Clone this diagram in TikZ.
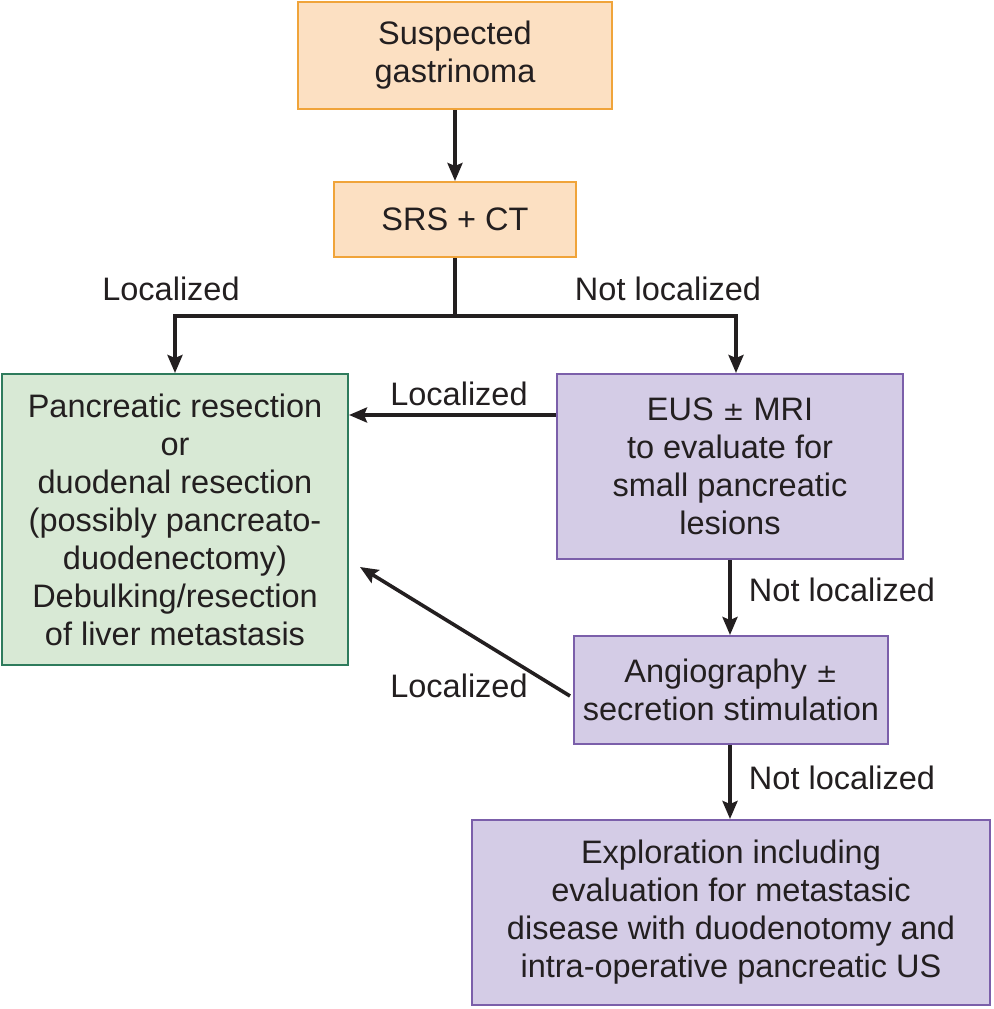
\documentclass[tikz,border=0pt]{standalone}
\usepackage{fontspec}
\setmainfont{Liberation Sans}
\usetikzlibrary{arrows.meta}
\definecolor{orfill}{HTML}{FCE0C2}
\definecolor{ordraw}{HTML}{F0A43A}
\definecolor{grfill}{HTML}{D8E9D5}
\definecolor{grdraw}{HTML}{2E7B5C}
\definecolor{vifill}{HTML}{D4CCE6}
\definecolor{vidraw}{HTML}{7B5FAA}
\definecolor{ink}{HTML}{231F20}
\begin{document}
\begin{tikzpicture}[x=1pt,y=-1pt,
  box/.style={draw, line width=2pt, align=center, inner sep=0pt, font=\fontsize{32.5}{38}\selectfont, text=ink},
  orbox/.style={box, fill=orfill, draw=ordraw},
  grbox/.style={box, fill=grfill, draw=grdraw},
  vibox/.style={box, fill=vifill, draw=vidraw},
  arr/.style={draw=ink, line width=3.6pt, -{Stealth[length=18pt,width=15pt,inset=3pt]}},
  lbl/.style={font=\fontsize{32.5}{38}\selectfont, text=ink, inner sep=0pt}]
\useasboundingbox (0,0) rectangle (993,1009);
\node[orbox, minimum width=314pt, minimum height=107pt] (g) at (455,55.5) {Suspected\\gastrinoma};
\node[orbox, minimum width=242pt, minimum height=75pt] (s) at (455,219.5) {SRS + CT};
\node[grbox, minimum width=346pt, minimum height=291pt] (r) at (175,519.5) {Pancreatic resection\\or\\duodenal resection\\(possibly pancreato-\\duodenectomy)\\Debulking/resection\\of liver metastasis};
\node[vibox, minimum width=346pt, minimum height=185pt] (e) at (730,466.5) {EUS {\fontspec{DejaVu Sans}\fontsize{26}{38}\selectfont ±} MRI\\to evaluate for\\small pancreatic\\lesions};
\node[vibox, minimum width=314pt, minimum height=108pt] (a) at (731,690) {Angiography {\fontspec{DejaVu Sans}\fontsize{26}{38}\selectfont ±}\\secretion stimulation};
\node[vibox, minimum width=518pt, minimum height=185pt] (x) at (731,912.5) {Exploration including\\evaluation for metastasic\\disease with duodenotomy and\\intra-operative pancreatic US};
\coordinate (j) at (455,316);
\coordinate (jl) at (175,316);
\coordinate (jr) at (736,316);
\draw[arr] (g.south) -- (s.north);
\draw[draw=ink, line width=3.6pt] (s.south) -- (j);
\draw[arr] (j) -- (jl) -- (r.north -| jl);
\draw[arr] (j) -- (jr) -- (e.north -| jr);
\coordinate (el) at (557,415);
\draw[arr] (e.west |- el) -- (r.east |- el);
\draw[arr] (e.south) -- (a.north -| e.south);
\coordinate (as) at (570,696);
\coordinate (rt) at (360,567);
\draw[arr] (as) -- (rt);
\draw[arr] (a.south -| e.south) -- (x.north -| e.south);
\node[lbl] (l1) at (171,289) {Localized};
\node[lbl] (l2) at (668,289) {Not localized};
\node[lbl] (l3) at (459,394) {Localized};
\node[lbl] (l4) at (842,590) {Not localized};
\node[lbl] (l5) at (459,686) {Localized};
\node[lbl] (l6) at (842,778) {Not localized};
\end{tikzpicture}
\end{document}
